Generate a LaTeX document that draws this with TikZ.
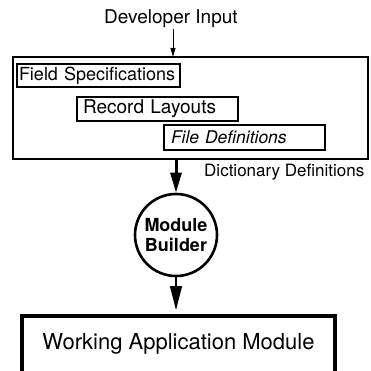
\documentclass[tikz,border=0pt]{standalone}
\usepackage{fontspec}
\setmainfont{TeX Gyre Heros}
\usetikzlibrary{arrows.meta}
\begin{document}
\begin{tikzpicture}[x=1pt,y=-1pt,
  entrybox/.style={draw, line width=1.2pt, rectangle, inner ysep=0pt, align=left},
  plainlabel/.style={inner sep=1pt},
  thinarrow/.style={line width=0.9pt, -{Triangle[length=9pt,width=5pt]}},
]
\useasboundingbox (0,0) rectangle (371,371);
\clip (0,0) rectangle (371,371);

% dictionary frame holding the three definition kinds
\node[draw, line width=1.4pt, minimum width=355pt, minimum height=102pt, inner sep=0pt]
  (dict) at (190.5,108) {};

\node[entrybox, inner xsep=2pt, text width=159pt, minimum height=23pt,
  font=\fontsize{18}{20}\selectfont] (field) at (98.5,75.5) {Field Specifications};
\node[entrybox, inner xsep=6pt, text width=149pt, minimum height=24pt,
  font=\fontsize{19}{21}\selectfont] (record) at (157.5,109) {Record Layouts};
\node[entrybox, inner xsep=7pt, text width=147pt, minimum height=25pt,
  font=\fontsize{17.5}{20}\itshape] (file) at (244.5,137.5) {File Definitions};

\node[plainlabel, anchor=west, font=\fontsize{17}{20}\selectfont]
  (dictlabel) at (203,172) {Dictionary Definitions};

% developer input from above
\node[plainlabel, font=\fontsize{19}{22}\selectfont] (dev) at (171,19) {Developer Input};
\draw[thinarrow] (dev.south -| 173,0) -- (173,57);

% module builder process
\node[circle, draw, line width=2.6pt, minimum size=82pt, inner sep=0pt, align=center,
  font=\fontsize{18}{19.5}\bfseries] (mb) at (176,235) {Module\\Builder};

\draw[line width=3pt, -{Triangle[length=20pt,width=11pt]}]
  (mb.north |- dict.south) -- (mb.north);

% resulting module
\node[draw, line width=4pt, minimum width=313pt, minimum height=110pt, inner sep=0pt]
  (work) at (178.5,371) {};
\node[plainlabel, font=\fontsize{22}{24}\selectfont] (worklabel) at (178.5,344)
  {Working Application Module};

\draw[line width=1.1pt, shorten >=4pt, -{Triangle[length=24pt,width=12pt]}]
  (mb.south) -- (mb.south |- work.north);
\end{tikzpicture}
\end{document}
